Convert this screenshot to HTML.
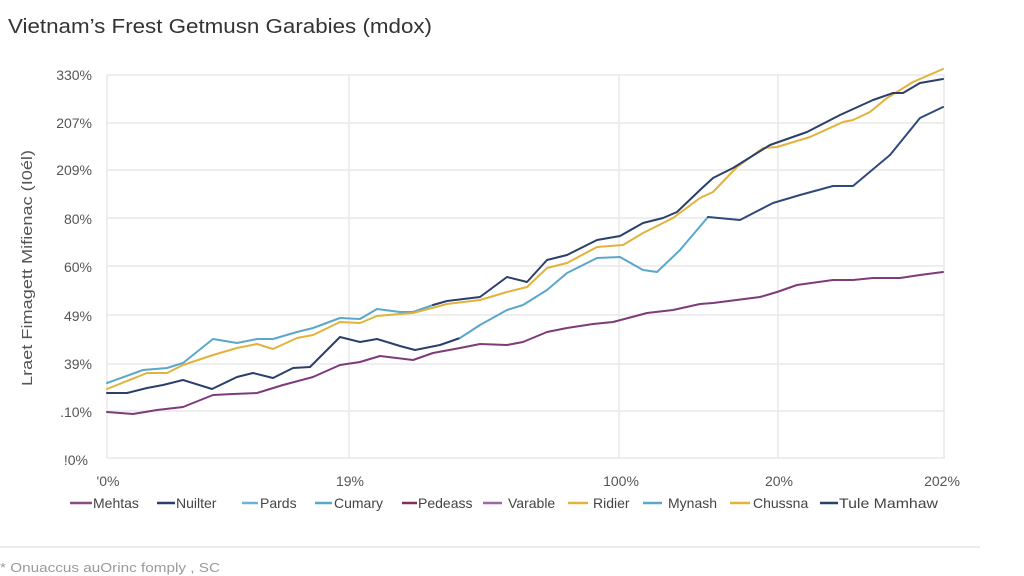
<!DOCTYPE html>
<html>
<head>
<meta charset="utf-8">
<style>
  html,body{margin:0;padding:0;background:#fff;}
  svg{display:block;}
  text{font-family:"Liberation Sans",Arial,sans-serif;}
</style>
</head>
<body>
<svg width="1024" height="576" viewBox="0 0 1024 576" xmlns="http://www.w3.org/2000/svg">
  <rect width="1024" height="576" fill="#ffffff"/>
  <!-- Title -->
  <text x="8" y="33" font-size="20" fill="#333" textLength="424" lengthAdjust="spacingAndGlyphs">Vietnam’s Frest Getmusn Garabies (mdox)</text>

  <!-- Gridlines -->
  <g stroke="#e9e9e9" stroke-width="1.5" fill="none">
    <line x1="107" y1="75" x2="945" y2="75"/>
    <line x1="107" y1="123" x2="945" y2="123"/>
    <line x1="107" y1="170" x2="945" y2="170"/>
    <line x1="107" y1="218" x2="945" y2="218"/>
    <line x1="107" y1="266" x2="945" y2="266"/>
    <line x1="107" y1="315" x2="945" y2="315"/>
    <line x1="107" y1="364" x2="945" y2="364"/>
    <line x1="107" y1="411" x2="945" y2="411"/>
    <line x1="107" y1="458" x2="945" y2="458"/>
    <line x1="107" y1="75" x2="107" y2="458"/>
    <line x1="349" y1="75" x2="349" y2="458"/>
    <line x1="619" y1="75" x2="619" y2="458"/>
    <line x1="778" y1="75" x2="778" y2="458"/>
    <line x1="944" y1="75" x2="944" y2="458"/>
  </g>

  <!-- Y tick labels -->
  <g font-size="14" fill="#555" text-anchor="end">
    <text x="92" y="80">330%</text>
    <text x="92" y="128">207%</text>
    <text x="92" y="175">209%</text>
    <text x="92" y="224">80%</text>
    <text x="92" y="272">60%</text>
    <text x="92" y="321">49%</text>
    <text x="92" y="369">39%</text>
    <text x="92" y="417">.10%</text>
    <text x="88" y="465">!0%</text>
  </g>

  <!-- Y axis title -->
  <text transform="translate(32,268) rotate(-90)" font-size="15" fill="#555" text-anchor="middle" textLength="236" lengthAdjust="spacingAndGlyphs">Lraet Fimagett Mifienac (I0él)</text>

  <!-- X tick labels -->
  <g font-size="14" fill="#555" text-anchor="middle">
    <text x="108" y="486">'0%</text>
    <text x="350" y="486">19%</text>
    <text x="621" y="486">100%</text>
    <text x="779" y="486">20%</text>
    <text x="942" y="486">202%</text>
  </g>

  <!-- Series -->
  <g fill="none" stroke-width="2" stroke-linejoin="round" stroke-linecap="round">
    <polyline stroke="#7d3b7a" points="107,412 133,414 157,410 183,407 213,395 233,394 257,393 283,385 313,377 340,365 360,362 380,356 413,360 433,353 460,348 480,344 507,345 523,342 547,332 567,328 593,324 613,322 647,313 673,310 700,304 713,303 760,297 777,292 797,285 833,280 853,280 873,278 900,278 920,275 943,272"/>
    <polyline stroke="#2b3f6b" points="107,393 127,393 147,388 163,385 183,380 212,389 237,377 253,373 273,378 293,368 310,367 340,337 360,342 377,339 400,346 415,350 440,345 460,338"/>
    <polyline stroke="#5aa7cc" points="460,338 480,325 507,310 523,305 547,290 567,273 597,258 620,257 643,270 657,272 680,250 708,217"/>
    <polyline stroke="#2f4a7a" points="708,217 740,220 773,203 800,195 833,186 853,186 890,155 920,118 943,107"/>
    <polyline stroke="#5aa7cc" points="107,383 143,370 167,368 183,363 213,339 237,343 257,339 273,339 297,332 313,328 340,318 360,319 377,309 400,312 413,312 433,305"/>
    <polyline stroke="#e2b23a" points="107,389 147,373 167,373 183,365 213,355 237,348 257,344 273,349 297,338 313,335 340,322 360,323 377,316 400,314 413,313 447,304 480,300 507,292 527,287 547,268 567,263 597,247 623,245 643,233 673,218 700,198 713,192 737,167 763,148 777,147 810,137 843,122 853,120 870,112 887,98 913,82 943,69"/>
    <polyline stroke="#2b3f6b" points="433,305 447,301 480,297 507,277 527,282 547,260 567,255 597,240 620,236 643,223 663,218 677,212 700,190 713,178 733,168 770,145 807,132 840,115 873,100 893,93 903,93 920,83 943,79"/>
  </g>

  <!-- Legend -->
  <g stroke-width="2.5">
    <line x1="70" y1="503" x2="92" y2="503" stroke="#8a4a86"/>
    <line x1="157" y1="503" x2="175" y2="503" stroke="#2b3f6b"/>
    <line x1="242" y1="503" x2="258" y2="503" stroke="#6ab4d6"/>
    <line x1="315" y1="503" x2="332" y2="503" stroke="#5aa7cc"/>
    <line x1="402" y1="503" x2="417" y2="503" stroke="#7d2f5e"/>
    <line x1="483" y1="503" x2="502" y2="503" stroke="#a066a8"/>
    <line x1="568" y1="503" x2="588" y2="503" stroke="#e2b23a"/>
    <line x1="643" y1="503" x2="662" y2="503" stroke="#5aa7cc"/>
    <line x1="730" y1="503" x2="750" y2="503" stroke="#e2b23a"/>
    <line x1="820" y1="503" x2="838" y2="503" stroke="#2b3f6b"/>
  </g>
  <g font-size="14" fill="#444">
    <text x="93" y="508">Mehtas</text>
    <text x="176" y="508">Nuilter</text>
    <text x="260" y="508">Pards</text>
    <text x="334" y="508">Cumary</text>
    <text x="418" y="508">Pedeass</text>
    <text x="508" y="508">Varable</text>
    <text x="593" y="508">Ridier</text>
    <text x="668" y="508">Mynash</text>
    <text x="753" y="508">Chussna</text>
    <text x="839" y="508" textLength="99" lengthAdjust="spacingAndGlyphs">Tule Mamhaw</text>
  </g>

  <!-- Separator and footnote -->
  <line x1="0" y1="547" x2="980" y2="547" stroke="#e6e6e6" stroke-width="1.5"/>
  <text x="0" y="572" font-size="13" fill="#9a9a9a" textLength="220" lengthAdjust="spacingAndGlyphs">* Onuaccus auOrinc fomply , SC</text>
</svg>
</body>
</html>
